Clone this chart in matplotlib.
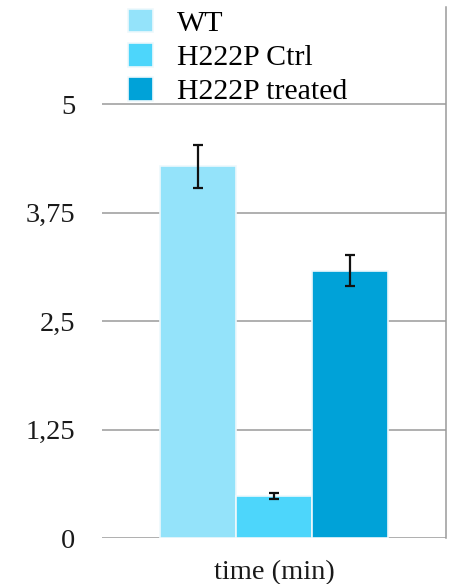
import matplotlib.pyplot as plt
import numpy as np

plt.rcParams['font.family'] = ['Liberation Serif', 'DejaVu Serif']

groups = ['WT', 'H222P Ctrl', 'H222P treated']
values = [4.28, 0.48, 3.08]
errors = [0.25, 0.035, 0.175]
colors = ['#94E3FA', '#4DD6FB', '#00A2D8']
yticks = [0, 1.25, 2.5, 3.75, 5]
ytick_labels = ['0', '1,25', '2,5', '3,75', '5']
category = 'time (min)'

W, H = 457, 584
fig = plt.figure(figsize=(W / 100, H / 100), dpi=100)
# axes box in pixels: left 102, right 446, bottom 538, top 7
ax = fig.add_axes([102 / W, 1 - 538 / H, 344 / W, 531 / H])

x = np.arange(len(groups))
ax.bar(x, values, width=1.0, color=colors, edgecolor='#eef8fc', linewidth=1.2,
       label=groups, zorder=3)
ax.errorbar(x, values, yerr=errors, fmt='none', ecolor='#111111',
            elinewidth=1.6, capsize=3.6, capthick=1.6, zorder=4)

ax.set_xlim(-1.263, 3.263)
ax.set_ylim(0, 531 / 86.8)
ax.set_yticks(yticks)
ax.set_yticklabels(ytick_labels)
ax.set_xticks([1])
ax.set_xticklabels([category])
ax.tick_params(axis='both', length=0, labelsize=20.5, colors='#1a1a1a')
ax.tick_params(axis='y', pad=19)
ax.tick_params(axis='x', pad=16)

for yv in yticks:
    ax.axhline(yv, color='#9a9a9a', linewidth=1.1, zorder=1)

for side in ['left', 'top', 'bottom']:
    ax.spines[side].set_visible(False)
ax.spines['right'].set_color('#9a9a9a')
ax.spines['right'].set_linewidth(1.1)

ax.legend(loc='upper left', bbox_to_anchor=(0.075, 0.997), frameon=False,
          fontsize=21.5, handlelength=0.85, handleheight=0.85,
          handletextpad=0.8, labelspacing=0.2, borderaxespad=0.0,
          borderpad=0.0)

fig.savefig('out.png', dpi=100)
